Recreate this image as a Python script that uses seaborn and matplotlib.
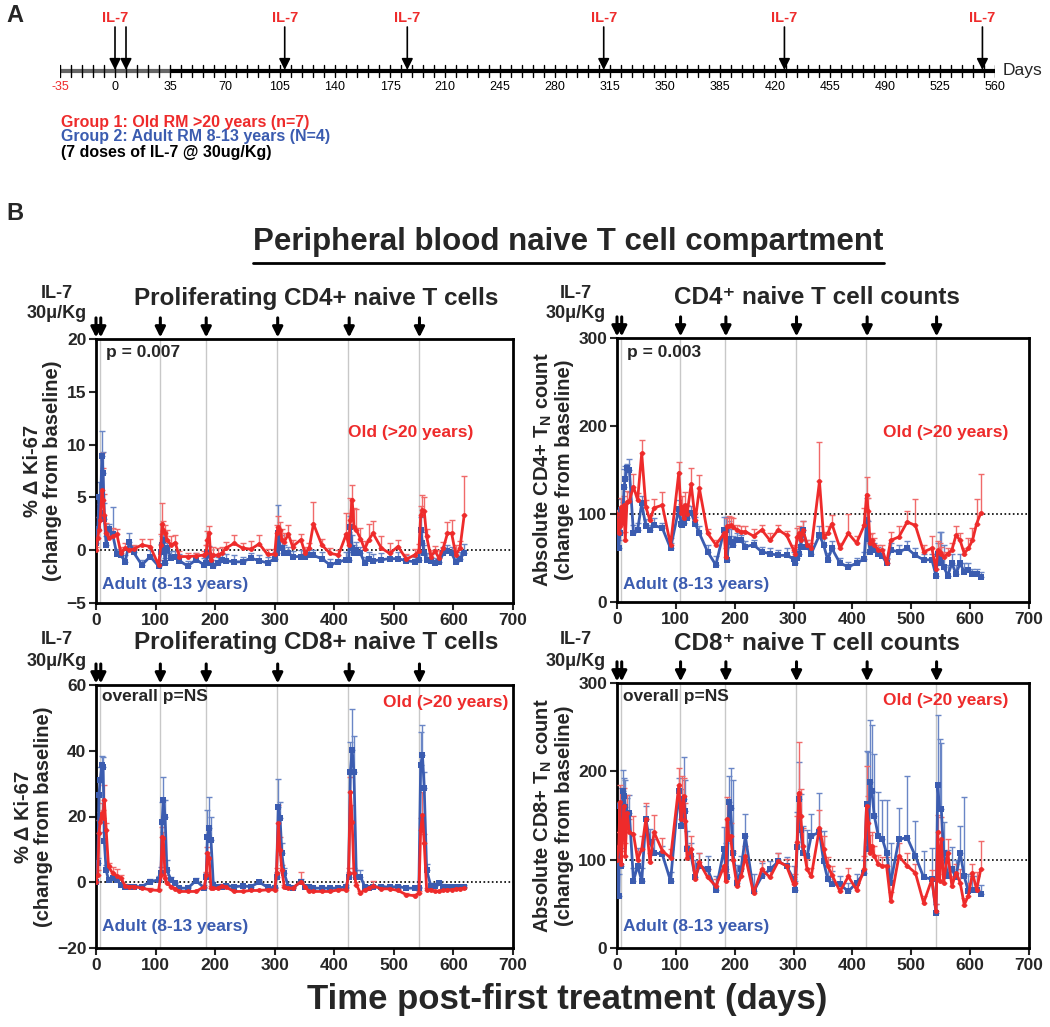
import numpy as np
import pandas as pd
import matplotlib
matplotlib.use('Agg')
import matplotlib.pyplot as plt
import seaborn as sns

# ---------------- data ----------------
days = [0, 3, 5, 7, 10, 12, 14, 17, 21, 28, 35, 42, 49, 56, 63, 77, 91, 105,
        109, 111, 113, 116, 119, 126, 133, 140, 154, 168, 182,
        185, 187, 190, 193, 197, 204, 211, 218, 232, 246, 260, 274, 288, 300,
        303, 306, 309, 312, 316, 323, 330, 344, 351, 358, 365, 379, 393, 407, 420,
        424, 427, 430, 433, 437, 444, 451, 458, 465, 479, 493, 507, 521, 535,
        542, 545, 548, 551, 555, 562, 569, 576, 583, 590, 597, 604, 611, 618]

# CD4 Ki-67 (% change from baseline)
cd4ki_old = [0, 1.2, 1.9, 2.9, 5.7, 4.8, 3.3, 1.6, 1.2, 1.3, 1.5, -0.3, 0.2, 0.0, 0.1, 0.5, 0.35, -1.4,
             0.5, 2.5, 1.9, 1.6, 1.0, 0.5, 0.7, -0.6, -0.6, -0.55, -0.45,
             -0.3, 1.0, 1.6, -0.9, -0.5, -0.45, -0.3, 0.2, 0.65, 0.2, 0.1, 0.6, -0.4, -0.4,
             1.6, 2.2, 1.9, 1.0, 0.8, 1.5, 0.35, 1.0, -0.3, 0.2, 2.5, 0.5, -0.3, -0.45, 1.5,
             0.5, 2.9, 4.8, 2.2, 1.9, 1.1, 0.1, 1.0, 1.6, 0.2, -0.3, 0.35, -0.85, -0.45,
             -0.1, 3.3, 3.8, 3.7, 1.3, -0.6, -0.1, -0.75, 0.2, 1.6, 1.6, -0.45, 0.2, 3.3]
cd4ki_old_err = [0.3, 0.8, 1.2, 1.5, 3.5, 3.0, 2.0, 1.0, 0.7, 0.8, 0.5, 0.6, 0.5, 0.3, 0.4, 0.6, 0.7, 0.5,
                 1.0, 2.0, 0.9, 0.8, 0.9, 0.8, 0.7, 0.5, 0.3, 0.3, 0.4,
                 0.8, 0.8, 0.7, 0.6, 0.8, 0.7, 0.6, 0.6, 0.8, 0.5, 0.8, 0.8, 0.5, 0.5,
                 0.8, 1.0, 0.8, 1.0, 0.8, 0.9, 0.6, 0.5, 0.6, 0.5, 2.1, 0.6, 0.5, 0.5, 2.0,
                 1.2, 2.0, 1.4, 1.8, 2.0, 1.0, 0.8, 1.5, 1.2, 1.1, 1.0, 0.6, 0.5, 0.6,
                 0.7, 0.9, 1.4, 1.3, 0.7, 0.6, 0.5, 0.8, 0.6, 1.1, 1.3, 0.9, 0.7, 3.7]
cd4ki_adult = [0.7, 2.0, 5.0, 3.5, 8.9, 7.3, 3.0, 0.5, 2.0, 1.5, -0.4, -0.5, -1.1, 0.8, -0.2, -1.4, -0.6, -1.5,
               -0.2, 0.5, 1.0, -1.2, 0.2, -0.7, -0.6, -1.0, -1.5, -0.9, -1.4,
               -1.2, -0.3, -0.5, -1.2, -1.5, -1.2, -0.9, -1.0, -1.1, -1.1, -0.75, -1.0, -1.2, -0.8,
               -0.3, 1.6, 0.2, 0.2, -0.3, -0.3, -0.6, -0.6, -0.6, -0.5, -0.5, -0.8, -1.4, -1.1, -0.9,
               -0.9, 2.2, 0.2, -0.3, 0.0, -0.3, -1.2, -0.8, -1.0, -0.9, -0.8, -0.8, -1.0, -1.1,
               -0.9, 1.9, 0.7, -0.3, -0.9, -1.0, -1.2, -1.1, -0.3, -0.1, -0.3, -1.1, -0.8, -0.3]
cd4ki_adult_err = [0.5, 1.2, 1.5, 1.5, 2.4, 2.0, 1.5, 0.8, 0.5, 2.6, 0.5, 0.4, 0.6, 0.8, 0.6, 0.5, 0.6, 0.6,
                   0.8, 0.8, 0.8, 0.5, 0.5, 0.6, 0.5, 0.6, 0.5, 0.6, 0.7,
                   0.6, 0.8, 0.9, 0.6, 0.6, 0.6, 0.6, 0.6, 0.6, 0.5, 0.5, 0.5, 0.6, 0.6,
                   0.6, 2.7, 1.0, 1.2, 0.8, 0.6, 0.5, 0.6, 0.5, 0.6, 0.5, 0.6, 0.6, 0.6, 0.7,
                   0.7, 1.0, 1.2, 0.8, 0.8, 0.6, 0.6, 0.6, 0.6, 0.6, 0.6, 0.6, 0.5, 0.5,
                   0.6, 1.2, 1.0, 0.8, 0.6, 0.6, 0.5, 0.6, 0.6, 0.6, 0.6, 0.6, 0.6, 0.9]

# CD4 naive counts (% of baseline)
cd4n_old = [100, 78, 86, 108, 90, 110, 70, 114, 115, 131, 116, 169, 108, 93, 107, 110, 65, 147,
            101, 108, 95, 110, 100, 134, 93, 129, 78, 65, 78,
            51, 86, 86, 87, 85, 82, 80, 80, 75, 82, 70, 82, 76, 59,
            55, 74, 78, 70, 82, 65, 61, 137, 74, 78, 89, 61, 78, 67, 87,
            122, 103, 67, 70, 65, 59, 59, 44, 70, 74, 91, 87, 57, 61,
            37, 59, 57, 55, 51, 55, 59, 76, 70, 55, 61, 70, 89, 101]
cd4n_old_err = [5, 15, 12, 10, 12, 10, 10, 12, 10, 15, 8, 15, 8, 6, 10, 15, 8, 12,
                10, 12, 8, 15, 10, 18, 8, 15, 5, 5, 6,
                10, 10, 12, 10, 10, 6, 6, 6, 8, 6, 8, 6, 5, 6,
                8, 10, 8, 6, 10, 6, 6, 45, 6, 8, 10, 6, 22, 8, 20,
                20, 15, 10, 8, 8, 6, 6, 5, 10, 12, 12, 30, 8, 14,
                5, 10, 10, 8, 6, 6, 8, 10, 8, 6, 12, 14, 28, 45]
cd4n_adult = [97, 61, 78, 105, 99, 131, 140, 152, 150, 78, 82, 112, 86, 82, 87, 84, 61, 106,
              89, 87, 90, 101, 96, 101, 89, 78, 57, 42, 82,
              82, 48, 72, 68, 65, 70, 70, 63, 65, 57, 55, 53, 53, 49,
              44, 50, 55, 62, 82, 63, 55, 76, 65, 48, 61, 44, 40, 44, 49,
              93, 72, 57, 61, 59, 55, 52, 44, 59, 57, 61, 53, 48, 48,
              30, 55, 50, 44, 40, 30, 44, 32, 44, 34, 36, 32, 32, 28]
cd4n_adult_err = [5, 10, 15, 12, 15, 20, 15, 5, 12, 10, 8, 8, 8, 6, 8, 6, 6, 10,
                  8, 10, 8, 10, 8, 8, 8, 8, 8, 10, 15,
                  15, 15, 20, 15, 10, 8, 6, 6, 6, 6, 6, 6, 8, 8,
                  8, 10, 15, 10, 10, 8, 8, 10, 8, 8, 8, 6, 6, 6, 8,
                  25, 20, 15, 10, 8, 8, 8, 6, 8, 8, 8, 8, 6, 6,
                  8, 12, 30, 35, 25, 12, 10, 10, 10, 10, 8, 6, 6, 6]

# CD8 Ki-67 (% change from baseline)
cd8ki_old = [0, 2.2, 15, 18.4, 21, 19.4, 25, 16, 4.8, 2.7, 1.9, 1.2, -1.1, -1.3, -1.3, -1.8, -2.3, -2.5,
             2.2, 13.9, 13.4, 1.2, -0.3, -1.3, -2.0, -2.8, -2.8, -2.8, -1.3,
             2.2, 8.8, 7.3, -1.8, -1.8, -1.8, -1.1, -1.5, -2.8, -2.8, -2.5, -2.5, -2.3, -2.3,
             2.7, 17.9, 9.8, 3.7, -1.3, -1.8, -1.8, 0.2, -1.3, -2.8, -2.8, -2.8, -2.8, -2.3, -2.3,
             2.7, 27.5, 18.4, 2.7, -0.8, -3.3, -2.3, -1.8, -1.1, -2.0, -2.0, -2.5, -3.8, -4.1,
             -3.3, 15.9, 20.5, 11.8, -2.3, -2.3, -2.8, -2.8, -2.5, -2.3, -2.3, -2.0, -2.0, -1.8]
cd8ki_old_err = [0.3, 1.5, 4.0, 3.0, 3.0, 2.5, 4.5, 2.0, 1.0, 2.0, 2.0, 1.0, 0.5, 0.5, 0.5, 0.5, 0.5, 0.5,
                 1.0, 3.0, 2.0, 1.0, 0.8, 0.5, 0.5, 0.5, 0.5, 0.5, 0.5,
                 1.0, 2.0, 2.0, 0.8, 0.5, 0.5, 0.5, 0.8, 0.5, 0.5, 0.5, 0.5, 0.5, 0.5,
                 1.5, 5.5, 4.0, 1.5, 0.5, 0.5, 0.5, 3.0, 0.5, 0.5, 0.5, 0.5, 0.5, 0.5, 0.5,
                 1.5, 4.5, 5.0, 1.5, 0.8, 0.5, 0.5, 0.5, 1.5, 0.5, 0.5, 0.5, 0.5, 0.5,
                 0.5, 3.5, 7.0, 3.0, 0.5, 0.5, 0.5, 0.5, 0.5, 0.5, 0.5, 0.5, 0.5, 0.5]
cd8ki_adult = [0, 6, 26.5, 31, 35.6, 35, 12.4, 3.7, 0.7, 1.2, 0.7, -0.8, -1.5, -1.5, -1.4, -1.3, 0.2, 0.7,
               2.7, 18.4, 25, 20, 3.7, 0.7, -0.3, -1.8, -1.8, 0.5, -1.8,
               1.7, 13.9, 16.4, 12.9, -0.8, -1.3, -1.3, -1.1, -1.3, -1.2, -1.3, 0, -1.5, -1.8,
               1.7, 23, 19.4, 8.8, 2.7, -1.3, -1.8, 0.2, -1.3, -1.4, -1.8, -1.8, -1.8, -1.8, -1.3,
               1.7, 33.6, 40.2, 33.6, 1.7, 1.7, -1.3, -1.8, -1.5, -1.3, -1.5, -1.3, -1.8, -1.8,
               -1.8, 35.6, 38.7, 28.6, 3.7, -1.1, -1.1, -0.3, -1.3, -1.3, -1.3, -1.3, -1.3, -1.3]
cd8ki_adult_err = [0.5, 1.5, 4.0, 4.0, 2.8, 3.0, 3.0, 1.5, 1.0, 0.8, 0.8, 0.5, 0.5, 0.5, 0.5, 0.5, 0.8, 1.2,
                   2.0, 6.0, 7.0, 5.0, 3.0, 0.8, 0.5, 0.5, 0.5, 0.8, 0.5,
                   1.0, 8.0, 9.5, 7.0, 0.8, 0.5, 0.5, 0.5, 0.5, 0.5, 0.5, 0.8, 0.5, 0.5,
                   1.5, 8.5, 5.0, 3.0, 1.5, 0.5, 0.5, 0.8, 0.5, 0.5, 0.5, 0.5, 0.5, 0.5, 0.5,
                   1.5, 9.0, 12.5, 11.0, 2.0, 2.0, 0.5, 0.5, 0.5, 0.5, 0.5, 0.5, 0.5, 0.5,
                   0.5, 10.0, 9.0, 5.0, 2.0, 0.8, 0.8, 0.8, 0.8, 0.5, 0.5, 0.5, 0.5, 0.5]

# CD8 naive counts (% of baseline)
cd8n_old = [100, 116, 165, 95, 142, 161, 104, 153, 131, 129, 100, 112, 146, 97, 131, 110, 102, 184,
            146, 160, 172, 144, 102, 112, 78, 97, 80, 70, 93,
            76, 146, 123, 127, 100, 70, 81, 104, 62, 89, 80, 98, 93, 72,
            74, 120, 176, 150, 116, 89, 81, 136, 112, 93, 83, 64, 81, 66, 89,
            161, 142, 108, 116, 104, 95, 93, 93, 53, 104, 93, 85, 51, 78,
            42, 131, 76, 123, 74, 108, 70, 85, 74, 49, 59, 85, 66, 89]
cd8n_old_err = [10, 15, 20, 15, 30, 20, 15, 20, 15, 20, 10, 15, 18, 10, 20, 15, 10, 20,
                25, 35, 20, 20, 15, 15, 10, 10, 10, 8, 12,
                10, 25, 20, 15, 10, 8, 10, 12, 8, 10, 8, 10, 8, 8,
                10, 30, 57, 30, 20, 12, 10, 20, 15, 10, 10, 8, 10, 8, 15,
                45, 30, 20, 15, 12, 10, 10, 10, 10, 15, 15, 10, 8, 10,
                8, 20, 15, 25, 10, 15, 12, 10, 15, 8, 15, 10, 20, 32]
cd8n_adult = [100, 59, 161, 93, 178, 172, 160, 150, 153, 76, 93, 76, 146, 120, 108, 106, 76, 178,
              138, 150, 169, 155, 112, 104, 80, 93, 89, 66, 112,
              89, 80, 165, 159, 108, 74, 89, 127, 64, 81, 89, 98, 93, 78,
              66, 114, 169, 134, 108, 104, 127, 131, 98, 78, 72, 72, 64, 74, 85,
              163, 112, 188, 178, 150, 127, 123, 108, 74, 123, 125, 104, 80, 78,
              40, 184, 157, 157, 108, 81, 89, 80, 108, 81, 64, 66, 66, 61]
cd8n_adult_err = [10, 25, 20, 20, 23, 20, 30, 20, 20, 15, 20, 15, 15, 15, 15, 10, 10, 15,
                  20, 30, 47, 35, 20, 15, 20, 15, 15, 15, 25,
                  30, 20, 30, 45, 82, 20, 15, 25, 20, 15, 10, 10, 10, 15,
                  10, 40, 42, 40, 30, 30, 25, 45, 35, 15, 15, 10, 10, 10, 15,
                  60, 110, 70, 75, 70, 50, 45, 60, 45, 35, 70, 40, 30, 35,
                  10, 80, 80, 75, 35, 30, 25, 20, 30, 90, 20, 15, 15, 10]

dose_days_panel = [0, 8, 108, 185, 305, 425, 543]
dose_lines = [7, 107, 184, 304, 423, 542]
dose_days_timeline = [0, 7, 108, 186, 311, 426, 552]
timeline_major = list(range(-35, 561, 35))
timeline_minor = list(range(-35, 561, 7))

# ---------------- style ----------------
sns.set_style('ticks')
plt.rcParams['font.family'] = ['Liberation Sans', 'DejaVu Sans']
plt.rcParams['font.weight'] = 'bold'
plt.rcParams['mathtext.default'] = 'regular'
plt.rcParams['axes.linewidth'] = 2

RED = '#ee2b2b'
BLUE = '#3b5cb0'
RED_L = '#f06a6a'
BLUE_L = '#6a86c6'

W, H = 1050, 1027
fig = plt.figure(figsize=(W / 100, H / 100), dpi=100)


def fx(px):
    return px / W


def fy(py):
    return 1 - py / H


def rect(l, t, r, b):
    return [l / W, 1 - b / H, (r - l) / W, (b - t) / H]


# ---------------- panel A: timeline ----------------
axt = fig.add_axes(rect(60, 0, 995, 100))
axt.set_xlim(-35, 560)
axt.set_ylim(100, 0)
axt.axis('off')
axt.plot([-35, 35], [71, 71], color='#666666', lw=3, solid_capstyle='butt')
axt.plot([35, 560], [71, 71], color='black', lw=3, solid_capstyle='butt')
for t in timeline_minor:
    axt.plot([t, t], [65, 77], color='black', lw=1)
for t in timeline_major:
    axt.text(t, 87, str(t), ha='center', va='center', fontsize=9, fontweight='normal',
             color=RED if t < 0 else 'black')
axt.text(565, 71, 'Days', ha='left', va='center', fontsize=12.5, fontweight='normal',
         clip_on=False)
for d in dose_days_timeline:
    axt.annotate('', xy=(d, 70), xytext=(d, 27),
                 arrowprops=dict(arrowstyle='-|>', color='black', lw=1.2,
                                 mutation_scale=17, shrinkA=0, shrinkB=0))
for d in [0, 108, 186, 311, 426, 552]:
    axt.text(d, 18, 'IL-7', ha='center', va='center', fontsize=10.5, color=RED,
             fontweight='bold')

fig.text(fx(6), fy(15), 'A', fontsize=17, fontweight='bold', va='center', ha='left')
fig.text(fx(6), fy(213), 'B', fontsize=17, fontweight='bold', va='center', ha='left')
fig.text(fx(61), fy(122), 'Group 1: Old RM >20 years (n=7)', color=RED, fontsize=11.5, va='center')
fig.text(fx(61), fy(137), 'Group 2: Adult RM 8-13 years (N=4)', color=BLUE, fontsize=11.5, va='center')
fig.text(fx(61), fy(153), '(7 doses of IL-7 @ 30ug/Kg)', color='black', fontsize=11.5, va='center')

fig.text(fx(568), fy(242), 'Peripheral blood naive T cell compartment', ha='center', va='center',
         fontsize=22.5, fontweight='bold')
fig.add_artist(plt.Line2D([fx(253), fx(884)], [fy(263), fy(263)], color='black', lw=2))


# ---------------- panel B ----------------
def panel(r, old, old_err, adult, adult_err, ylim, yticks, base, ylabel, title,
          title_xy, ptext, p_xy, old_xy, adult_xy, il7_xy):
    ax = fig.add_axes(rect(*r))
    for d in dose_lines:
        ax.axvline(d, color='#c8c8c8', lw=1, zorder=0)
    ax.axhline(base, color='black', ls=(0, (1, 1.5)), lw=1.2, zorder=1)
    z = np.zeros(len(days))
    ax.errorbar(days, adult, yerr=[z, adult_err], fmt='none', ecolor=BLUE_L, elinewidth=1,
                capsize=2.5, capthick=1, zorder=2)
    ax.errorbar(days, old, yerr=[z, old_err], fmt='none', ecolor=RED_L, elinewidth=1,
                capsize=2.5, capthick=1, zorder=3)
    df = pd.DataFrame({'day': days, 'Adult': adult, 'Old': old})
    sns.lineplot(data=df, x='day', y='Adult', ax=ax, color=BLUE, linewidth=2, marker='s',
                 markersize=4, markeredgewidth=0, legend=False, zorder=4)
    sns.lineplot(data=df, x='day', y='Old', ax=ax, color=RED, linewidth=2, marker='o',
                 markersize=3.5, markeredgewidth=0, legend=False, zorder=5)
    ax.set_xlim(0, 700)
    ax.set_xticks(range(0, 701, 100))
    ax.set_ylim(*ylim)
    ax.set_yticks(yticks)
    ax.tick_params(labelsize=12.5, width=1.5, length=5, direction='out', pad=2)
    for lab in ax.get_xticklabels() + ax.get_yticklabels():
        lab.set_fontweight('bold')
    for s in ax.spines.values():
        s.set_visible(True)
        s.set_linewidth(2)
        s.set_color('black')
    ax.set_xlabel('')
    ax.set_ylabel(ylabel, fontsize=14.5, fontweight='bold', labelpad=3, linespacing=1.05)
    for d in dose_days_panel:
        ax.annotate('', xy=(d, 1.006), xytext=(d, 1.08), xycoords=('data', 'axes fraction'),
                    textcoords=('data', 'axes fraction'), annotation_clip=False,
                    arrowprops=dict(arrowstyle='-|>', color='black', lw=2.2,
                                    mutation_scale=15, shrinkA=0, shrinkB=0))
    fig.text(fx(title_xy[0]), fy(title_xy[1]), title, ha='center', va='center',
             fontsize=17.5, fontweight='bold')
    fig.text(fx(il7_xy[0]), fy(il7_xy[1] - 21), 'IL-7', ha='center', va='center',
             fontsize=13, fontweight='bold')
    fig.text(fx(il7_xy[0]), fy(il7_xy[1]), '30\u03bc/Kg', ha='center', va='center',
             fontsize=13, fontweight='bold')
    fig.text(fx(p_xy[0]), fy(p_xy[1]), ptext, ha='left', va='center', fontsize=12.5,
             fontweight='bold')
    fig.text(fx(old_xy[0]), fy(old_xy[1]), 'Old (>20 years)', ha='left', va='center',
             fontsize=12.5, fontweight='bold', color=RED)
    fig.text(fx(adult_xy[0]), fy(adult_xy[1]), 'Adult (8-13 years)', ha='left', va='center',
             fontsize=12.5, fontweight='bold', color=BLUE)
    return ax


panel((96, 339, 513, 603), cd4ki_old, cd4ki_old_err, cd4ki_adult, cd4ki_adult_err,
      (-5, 20), [-5, 0, 5, 10, 15, 20], 0,
      '% \u0394 Ki-67\n(change from baseline)', 'Proliferating CD4+ naive T cells',
      (316, 298), 'p = 0.007', (106, 352), (348, 433), (102, 585), (57, 314))

panel((617, 338, 1029, 602), cd4n_old, cd4n_old_err, cd4n_adult, cd4n_adult_err,
      (0, 300), [0, 100, 200, 300], 100,
      'Absolute CD4+ T$_{N}$ count\n(change from baseline)', 'CD4\u207a naive T cell counts',
      (817, 298), 'p = 0.003', (627, 352), (883, 433), (623, 585), (576, 314))

panel((96, 685, 513, 948), cd8ki_old, cd8ki_old_err, cd8ki_adult, cd8ki_adult_err,
      (-20, 60), [-20, 0, 20, 40, 60], 0,
      '% \u0394 Ki-67\n(change from baseline)', 'Proliferating CD8+ naive T cells',
      (316, 643), 'overall p=NS', (102, 697), (383, 702), (102, 926), (57, 661))

panel((617, 683, 1029, 948), cd8n_old, cd8n_old_err, cd8n_adult, cd8n_adult_err,
      (0, 300), [0, 100, 200, 300], 100,
      'Absolute CD8+ T$_{N}$ count\n(change from baseline)', 'CD8\u207a naive T cell counts',
      (817, 643), 'overall p=NS', (623, 697), (883, 701), (623, 926), (576, 661))

fig.text(fx(567), fy(1000), 'Time post-first treatment (days)', ha='center', va='center',
         fontsize=25, fontweight='bold')

fig.savefig('out.png', dpi=100)
